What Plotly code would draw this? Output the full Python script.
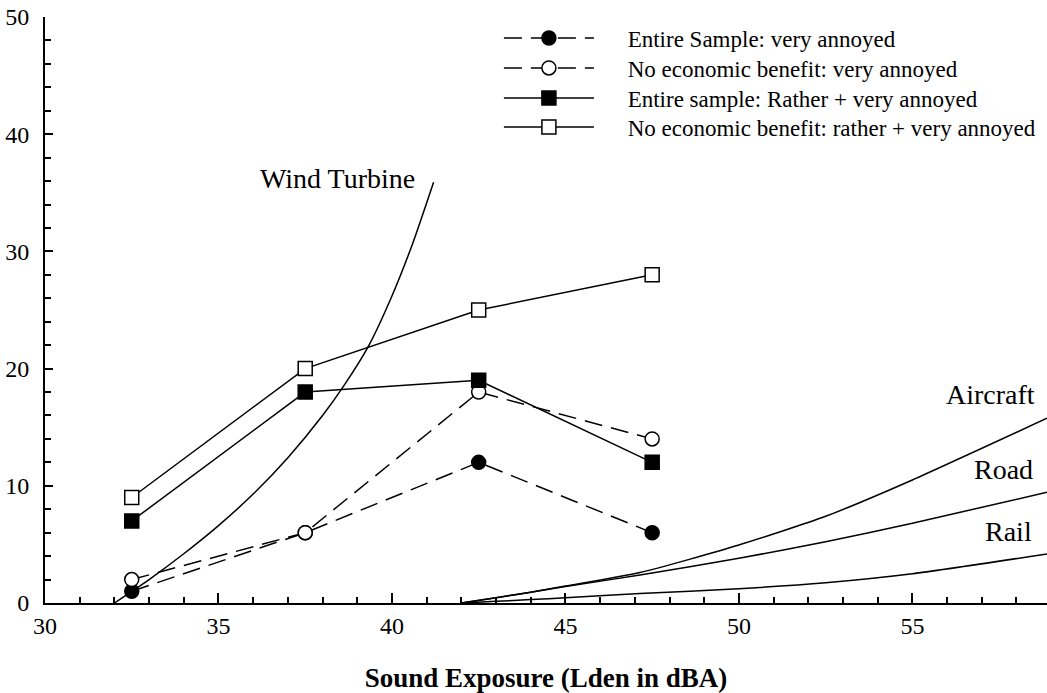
import plotly.graph_objects as go

# Survey data (dose-response points)
exposure = [32.5, 37.5, 42.5, 47.5]
entire_very = [1, 6, 12, 6]
noecon_very = [2, 6, 18, 14]
entire_rather_very = [7, 18, 19, 12]
noecon_rather_very = [9, 20, 25, 28]

# Reference curves
wind_x = [32.0, 33.0, 34.0, 35.0, 36.0, 37.0, 38.0, 38.65, 39.32, 40.0, 40.6, 41.2]
wind_y = [0.0, 2.0, 4.2, 6.6, 9.3, 12.4, 16.0, 18.7, 21.9, 26.2, 30.7, 35.9]

traffic_x = [42.0, 43.0, 44.0, 45.0, 47.15, 50.0, 52.5, 55.0, 58.88]
aircraft_y = [0.0, 0.45, 0.92, 1.45, 2.6, 4.95, 7.4, 10.5, 15.76]
road_y = [0.0, 0.45, 0.92, 1.4, 2.39, 3.81, 5.23, 6.8, 9.45]
rail_y = [0.0, 0.14, 0.29, 0.45, 0.8, 1.22, 1.73, 2.5, 4.18]

FONT = "Liberation Serif"
BLACK = "#000000"
NB = "&nbsp;" * 5

fig = go.Figure()

for xs, ys in [(wind_x, wind_y), (traffic_x, aircraft_y), (traffic_x, road_y), (traffic_x, rail_y)]:
    fig.add_trace(go.Scatter(x=xs, y=ys, mode="lines", line=dict(color=BLACK, width=1.5, shape="spline", smoothing=0.6),
                             showlegend=False, hoverinfo="skip"))

series = [
    ("Entire Sample: very annoyed", entire_very, "circle", BLACK, "18px,9px"),
    ("No economic benefit: very annoyed", noecon_very, "circle", "white", "18px,9px"),
    ("Entire sample: Rather + very annoyed", entire_rather_very, "square", BLACK, "solid"),
    ("No economic benefit: rather + very annoyed", noecon_rather_very, "square", "white", "solid"),
]
legend_ids = ["legend", "legend2", "legend3", "legend4"]
legend_rows = [38, 68, 98, 127]  # pixel rows of legend entries
for i, (name, ys, sym, fill, dash) in enumerate(series):
    fig.add_trace(go.Scatter(
        x=exposure, y=ys, mode="lines+markers", name=NB + name, legend=legend_ids[i],
        line=dict(color=BLACK, width=1.5, dash=dash),
        marker=dict(symbol=sym, size=14, color=fill, line=dict(color=BLACK, width=1.5)),
    ))

labels = [("Wind Turbine", 38.43, 36.26, "center"), ("Aircraft", 58.59, 17.75, "right"),
          ("Road", 58.53, 11.35, "right"), ("Rail", 58.50, 6.06, "right")]
for txt, x, y, anchor in labels:
    fig.add_annotation(x=x, y=y, text=txt, showarrow=False, xanchor=anchor, yanchor="middle",
                       font=dict(family=FONT, size=28, color=BLACK))

legend_style = dict(xanchor="left", yanchor="middle", itemwidth=90,
                    font=dict(family=FONT, size=23), bgcolor="rgba(0,0,0,0)")
legends = {}
for lid, row in zip(legend_ids, legend_rows):
    legends[lid] = dict(x=0.453, y=(603 - row) / 586, **legend_style)

fig.update_layout(
    width=1047, height=693,
    margin=dict(l=45, r=0, t=17, b=90),
    paper_bgcolor="white", plot_bgcolor="white",
    font=dict(family=FONT, size=24, color=BLACK),
    **legends,
)
fig.update_xaxes(range=[30, 58.88], automargin=False, showgrid=False, zeroline=False, showline=True,
                 linecolor=BLACK, linewidth=2,
                 ticks="inside", ticklen=10, tickwidth=1.5, tickcolor=BLACK, dtick=5, tick0=30,
                 minor=dict(dtick=1, ticks="inside", ticklen=6, tickwidth=1.5, tickcolor=BLACK, showgrid=False),
                 tickfont=dict(size=24), ticklabelstandoff=0,
                 title=dict(text="<b>Sound Exposure (Lden in dBA)</b>", font=dict(size=27), standoff=30))
fig.update_yaxes(range=[0, 50], automargin=False, showgrid=False, zeroline=False, showline=True,
                 linecolor=BLACK, linewidth=2,
                 ticks="inside", ticklen=8, tickwidth=1.5, tickcolor=BLACK, dtick=10, tick0=0,
                 minor=dict(dtick=2, ticks="inside", ticklen=6, tickwidth=1.5, tickcolor=BLACK, showgrid=False),
                 tickfont=dict(size=24), ticklabelstandoff=9)

fig.write_html("out.html", config={"displayModeBar": False},
               post_script="document.body.style.margin='0';")
